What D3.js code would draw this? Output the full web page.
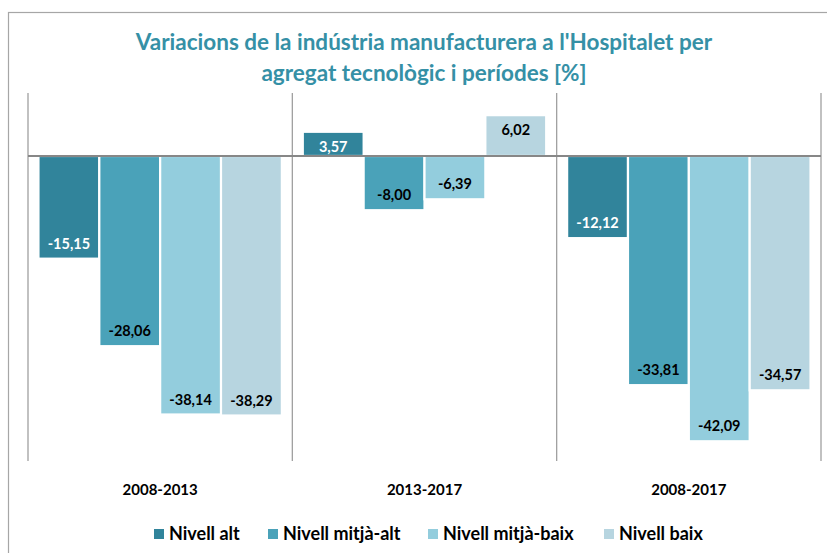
<!DOCTYPE html>
<html><head><meta charset="utf-8">
<script src="https://cdn.jsdelivr.net/npm/d3@7"></script>
<style>
html,body{margin:0;padding:0;background:#fff;}
svg{display:block;}
text{font-family:Lato,"Open Sans",sans-serif;}
</style></head>
<body>
<script>
const categories = ["2008-2013", "2013-2017", "2008-2017"];
const seriesNames = ["Nivell alt", "Nivell mitjà-alt", "Nivell mitjà-baix", "Nivell baix"];
const nivellAlt = [-15.15, 3.57, -12.12];
const nivellMitjaAlt = [-28.06, -8.00, -33.81];
const nivellMitjaBaix = [-38.14, -6.39, -42.09];
const nivellBaix = [-38.29, 6.02, -34.57];
const seriesValues = [nivellAlt, nivellMitjaAlt, nivellMitjaBaix, nivellBaix];
const colors = ["#31849b", "#4aa2b9", "#93cddd", "#b7d5e0"];
const labelColors = ["#ffffff", "#000000", "#000000", "#000000"];
const title = ["Variacions de la indústria manufacturera a l'Hospitalet per", "agregat tecnològic i períodes [%]"];

const W = 827, H = 553;
const svg = d3.select("body").append("svg").attr("width", W).attr("height", H);

// outer chart border
svg.append("rect").attr("x", 8.5).attr("y", 12.5).attr("width", 830).attr("height", 560)
  .attr("fill", "none").attr("stroke", "#a6a6a6").attr("stroke-width", 1.2);

const plot = {left: 28, right: 821, top: 93, bottom: 461};
const x0 = d3.scaleBand().domain(categories).range([plot.left, plot.right]).paddingInner(0).paddingOuter(0);
const x1 = d3.scaleBand().domain(d3.range(4)).range([0, x0.bandwidth()]).paddingOuter(0.172).paddingInner(0);
const y = d3.scaleLinear().domain([-45, 10]).range([461, 88.2]);

// title
svg.append("g").selectAll("text").data(title).join("text")
  .attr("x", 424).attr("y", (d, i) => 50 + i * 31)
  .attr("text-anchor", "middle").attr("font-size", 22.5).attr("font-weight", 700)
  .attr("fill", "#3590a6").text(d => d);

// vertical category gridlines
const gridX = categories.map(c => x0(c)).concat([plot.right]);
svg.append("g").selectAll("line").data(gridX).join("line")
  .attr("x1", d => d).attr("x2", d => d)
  .attr("y1", plot.top).attr("y2", plot.bottom)
  .attr("stroke", "#a0a0a0").attr("stroke-width", 1.3);

// bars
const bars = [];
categories.forEach((c, ci) => {
  seriesValues.forEach((vals, si) => {
    bars.push({c, si, v: vals[ci]});
  });
});
svg.append("g").selectAll("rect").data(bars).join("rect")
  .attr("x", d => x0(d.c) + x1(d.si))
  .attr("width", x1.bandwidth())
  .attr("y", d => Math.min(y(d.v), y(0)))
  .attr("height", d => Math.abs(y(d.v) - y(0)))
  .attr("fill", d => colors[d.si])
  .attr("stroke", "#ffffff").attr("stroke-width", 2.2);

// zero line
svg.append("line").attr("x1", plot.left).attr("x2", plot.right)
  .attr("y1", y(0)).attr("y2", y(0))
  .attr("stroke", "#878787").attr("stroke-width", 2);

// value labels (inside end)
const fmt = v => d3.format(".2f")(v).replace("\u2212", "-").replace(".", ",");
svg.append("g").selectAll("text").data(bars).join("text")
  .attr("x", d => x0(d.c) + x1(d.si) + x1.bandwidth() / 2)
  .attr("y", d => d.v < 0 ? y(d.v) - 15 : y(d.v) + 15)
  .attr("dy", "0.35em")
  .attr("text-anchor", "middle").attr("font-size", 14.5).attr("font-weight", 700)
  .attr("fill", d => labelColors[d.si]).text(d => fmt(d.v));

// category labels
svg.append("g").selectAll("text").data(categories).join("text")
  .attr("x", d => x0(d) + x0.bandwidth() / 2).attr("y", 490).attr("dy", "0.35em")
  .attr("text-anchor", "middle").attr("font-size", 15).attr("font-weight", 700)
  .attr("fill", "#000").text(d => d);

// legend
const legendX = [154, 268, 428, 604];
const lg = svg.append("g").selectAll("g").data(seriesNames).join("g")
  .attr("transform", (d, i) => `translate(${legendX[i]},534)`);
lg.append("rect").attr("x", 0).attr("y", -5).attr("width", 10).attr("height", 10)
  .attr("fill", (d, i) => colors[i]);
lg.append("text").attr("x", 15).attr("y", 0).attr("dy", "0.35em")
  .attr("font-size", 18).attr("font-weight", 700).attr("fill", "#000")
  .text(d => d);
</script>
</body></html>
